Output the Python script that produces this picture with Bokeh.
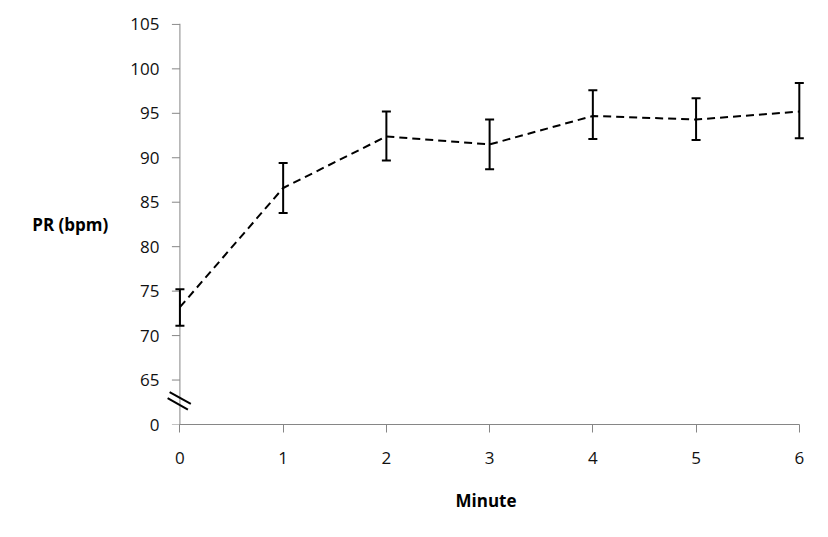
from bokeh.plotting import figure
from bokeh.models import Range1d, Whisker, ColumnDataSource, TeeHead, FixedTicker, Span
from bokeh.embed import file_html
from bokeh.resources import INLINE

# ---- data ----
minutes = [0, 1, 2, 3, 4, 5, 6]
pr_mean = [73.2, 86.6, 92.4, 91.5, 94.7, 94.3, 95.2]
pr_upper = [75.2, 89.4, 95.2, 94.3, 97.6, 96.7, 98.4]
pr_lower = [71.1, 83.8, 89.7, 88.7, 92.1, 92.0, 92.2]
y_ticks = [60, 65, 70, 75, 80, 85, 90, 95, 100, 105]
y_tick_labels = ["0", "65", "70", "75", "80", "85", "90", "95", "100", "105"]
x_ticks = [0, 1, 2, 3, 4, 5, 6]

FONT = "Open Sans"
AX = "#868686"
PAD_L, PAD_R = 0.13, 0.06
X_PX = 103.17   # pixels per minute in frame
Y_PX = 8.889    # pixels per bpm in frame

src = ColumnDataSource(dict(x=minutes, y=pr_mean, upper=pr_upper, lower=pr_lower))

p = figure(width=820, height=528,
           x_range=Range1d(minutes[0] - PAD_L, minutes[-1] + PAD_R),
           y_range=Range1d(y_ticks[0], y_ticks[-1] + 0.1),
           output_backend="svg", toolbar_location=None,
           min_border_left=166, min_border_right=15, min_border_top=23, min_border_bottom=104)
p.outline_line_color = None
p.grid.grid_line_color = None
p.background_fill_color = "white"
p.border_fill_color = "white"

# y axis line and ticks drawn at x = 0
p.add_layout(Span(location=minutes[0], dimension="height", line_color=AX, line_width=1,
                  level="underlay"))
tick_len = 8 / X_PX
p.segment(x0=[minutes[0] - tick_len] * len(y_ticks), y0=y_ticks,
          x1=[minutes[0]] * len(y_ticks), y1=y_ticks, line_color=AX, line_width=1,
          level="underlay")

# axis break marks (two short parallel strokes)
bx0 = [(-10.3) / X_PX, (-12.3) / X_PX]
bx1 = [(10.9) / X_PX, (8.0) / X_PX]
by0 = [y_ticks[0] + 32.4 / Y_PX, y_ticks[0] + 26.4 / Y_PX]
by1 = [y_ticks[0] + 20.6 / Y_PX, y_ticks[0] + 14.9 / Y_PX]
p.segment(x0=bx0, y0=by0, x1=bx1, y1=by1, line_color="black", line_width=2)

p.line("x", "y", source=src, line_color="black", line_width=2, line_dash="8 5")

w = Whisker(base="x", upper="upper", lower="lower", source=src,
            line_color="black", line_width=2,
            upper_head=TeeHead(size=9, line_color="black", line_width=2),
            lower_head=TeeHead(size=9, line_color="black", line_width=2))
p.add_layout(w)

for ax in (p.xaxis[0], p.yaxis[0]):
    ax.minor_tick_line_color = None
    ax.major_label_text_font = FONT
    ax.major_label_text_font_size = "17px"
    ax.major_label_text_color = "#111111"
    ax.axis_label_text_font = FONT
    ax.axis_label_text_font_size = "17px"
    ax.axis_label_text_font_style = "bold"
    ax.axis_label_text_color = "#000000"

p.xaxis.axis_line_color = AX
p.xaxis.major_tick_line_color = AX
p.xaxis.bounds = (minutes[0], minutes[-1])
p.xaxis.major_tick_in = 0
p.xaxis.major_tick_out = 8
p.xaxis.ticker = FixedTicker(ticks=x_ticks)
p.xaxis.major_label_standoff = 19
p.xaxis.axis_label = "Minute"
p.xaxis.axis_label_standoff = 22

p.yaxis.axis_line_color = None
p.yaxis.major_tick_line_color = None
p.yaxis.major_tick_in = 0
p.yaxis.major_tick_out = 0
p.yaxis.ticker = FixedTicker(ticks=y_ticks)
p.yaxis.major_label_overrides = {t: s for t, s in zip(y_ticks, y_tick_labels)}
p.yaxis.major_label_standoff = 7
p.yaxis.axis_label = "PR (bpm)"
p.yaxis.axis_label_standoff = 19
p.yaxis.axis_label_orientation = "horizontal"

open("out.html", "w").write(file_html(p, INLINE))
